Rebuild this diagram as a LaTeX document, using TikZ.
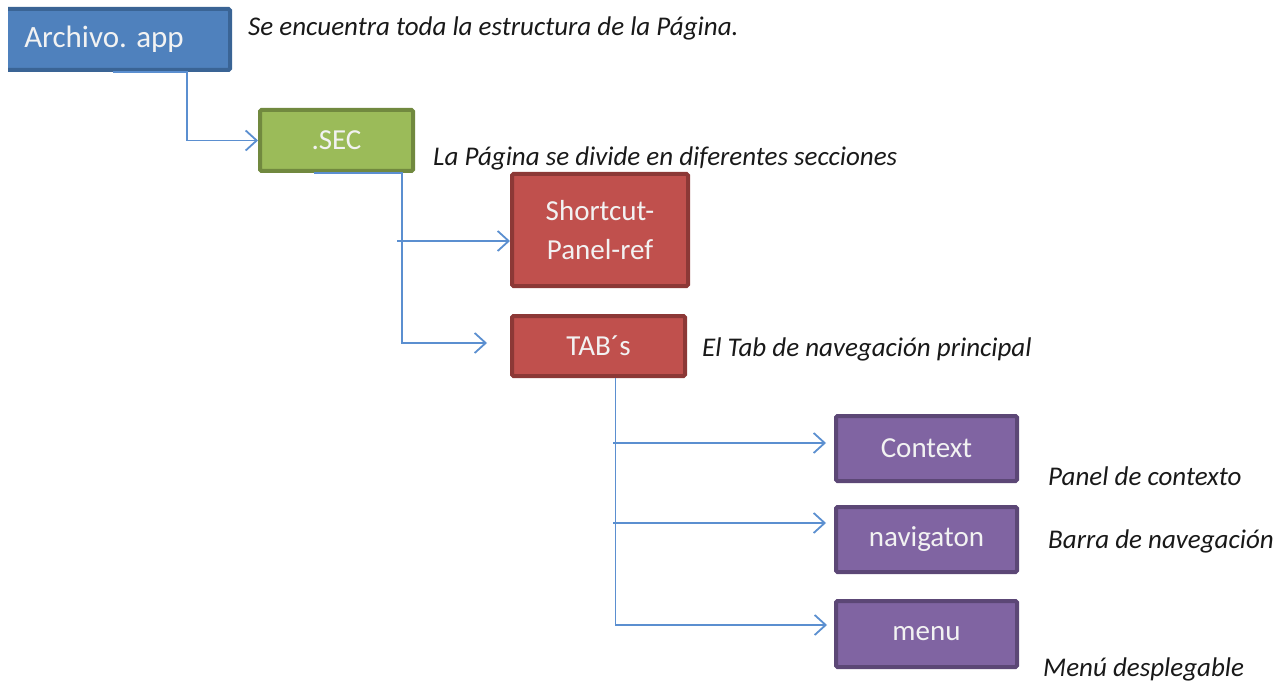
\documentclass[tikz,border=0pt]{standalone}
\usepackage{fontspec}
\setmainfont{Carlito}
\usetikzlibrary{arrows.meta}
\definecolor{appfill}{HTML}{4F81BD}
\definecolor{appline}{HTML}{3A6495}
\definecolor{secfill}{HTML}{9BBB59}
\definecolor{secline}{HTML}{71893F}
\definecolor{tabfill}{HTML}{C0504D}
\definecolor{tabline}{HTML}{8C3836}
\definecolor{subfill}{HTML}{8064A2}
\definecolor{subline}{HTML}{5C4776}
\definecolor{linkblue}{HTML}{5B8FD0}
\begin{document}
\begin{tikzpicture}[x=1pt,y=-1pt,
    caja/.style={line width=4pt, rounded corners=1.5pt, inner sep=0pt, align=center,
      text=white!95!black, font=\fontsize{29}{39}\selectfont},
    nota/.style={anchor=west, inner sep=0pt, text=black!90,
      font=\fontsize{27}{31}\selectfont\itshape},
    flecha/.style={draw=linkblue, line width=1.8pt,
      -{Straight Barb[length=11pt,width=20pt]}}]
  \useasboundingbox (0,0) rectangle (1288,682);

  % cajas
  \begin{scope}
    \clip (8,0) rectangle (300,100);
    \node [caja, fill=appfill, draw=appline, minimum width=252, minimum height=61,
      font=\fontsize{31}{36}\selectfont] (archivo) at (104,39.5) {Archivo. app};
  \end{scope}
  \node [caja, fill=secfill, draw=secline, minimum width=153, minimum height=61] (sec) at (336.5,140.5) {.SEC};
  \node [caja, fill=tabfill, draw=tabline, minimum width=176, minimum height=112] (shortcut) at (600,230) {Shortcut-\\Panel-ref};
  \node [caja, fill=tabfill, draw=tabline, minimum width=173, minimum height=60] (tabs) at (598.5,346) {TAB´s};
  \node [caja, fill=subfill, draw=subline, minimum width=181, minimum height=65] (context) at (926.5,448.5) {Context};
  \node [caja, fill=subfill, draw=subline, minimum width=181, minimum height=65] (navigaton) at (926.5,539.5) {navigaton};
  \node [caja, fill=subfill, draw=subline, minimum width=181, minimum height=66] (menu) at (926.5,634) {menu};

  % notas
  \node [nota] (n1) at (248,28) {Se encuentra toda la estructura de la Página.};
  \node [nota] (n2) at (433,158) {La Página se divide en diferentes secciones};
  \node [nota] (n3) at (702,349) {El Tab de navegación principal};
  \node [nota] (n4) at (1048,476) {Panel de contexto};
  \node [nota] (n5) at (1048,541) {Barra de navegación};
  \node [nota] (n6) at (1043,669) {Menú desplegable};

  % conectores
  \draw [flecha] ([xshift=9]archivo.south) -- ([xshift=83]archivo.south) |- (sec.west);
  \draw [flecha, shorten >=23pt] ([xshift=-23]sec.south) -- ([xshift=65.5]sec.south) |- ([yshift=3]tabs.west);
  \coordinate (b1) at (397,241);
  \draw [flecha] (b1) -- (b1 -| shortcut.west);
  \draw [flecha, shorten >=7pt] ([xshift=17]tabs.south) |- ([yshift=9]menu.west);
  \coordinate (b2) at (613,443);
  \coordinate (b3) at (613,523);
  \draw [flecha, shorten >=8pt] (b2) -- (b2 -| context.west);
  \draw [flecha, shorten >=8pt] (b3) -- (b3 -| navigaton.west);
\end{tikzpicture}
\end{document}
